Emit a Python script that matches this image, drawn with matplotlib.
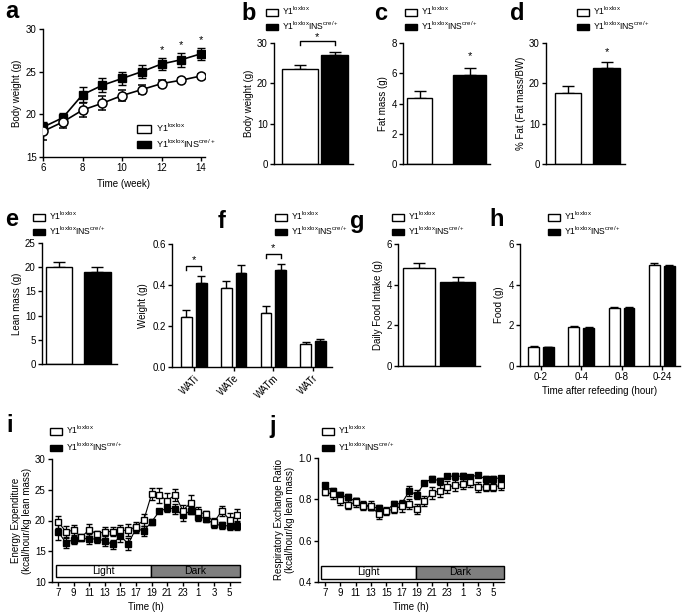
"""Multi-panel phenotype figure: body composition, fat pads, food intake and calorimetry."""

import matplotlib
matplotlib.use("Agg")
import matplotlib.pyplot as plt
from matplotlib.patches import Patch, Rectangle
import numpy as np

plt.rcParams["font.family"] = ["Liberation Sans", "DejaVu Sans"]
plt.rcParams["mathtext.fontset"] = "custom"
plt.rcParams["mathtext.rm"] = "Liberation Sans"
plt.rcParams["mathtext.it"] = "Liberation Sans"

LABEL_CTRL = r"Y1$^{\mathrm{loxlox}}$"
LABEL_KO = r"Y1$^{\mathrm{loxlox}}$INS$^{\mathrm{cre/+}}$"

# a: body weight over time
weeks = [6, 7, 8, 9, 10, 11, 12, 13, 14]
bw_ctrl = [18.0, 19.1, 20.5, 21.3, 22.2, 22.9, 23.6, 24.0, 24.5]
bw_ctrl_sem = [1.0, 0.7, 0.8, 0.8, 0.6, 0.5, 0.4, 0.2, 0.2]
bw_ko = [18.5, 19.6, 22.3, 23.4, 24.2, 25.0, 25.9, 26.4, 27.1]
bw_ko_sem = [0.6, 0.5, 0.9, 0.8, 0.8, 0.8, 0.7, 0.8, 0.7]
bw_sig_weeks = [12, 13, 14]

# b-e, g: two-group bar panels
body_weight = [23.6, 27.1]
body_weight_sem = [1.0, 0.6]
fat_mass = [4.35, 5.9]
fat_mass_sem = [0.45, 0.45]
pct_fat = [17.7, 23.8]
pct_fat_sem = [1.6, 1.5]
lean_mass = [20.0, 19.0]
lean_mass_sem = [1.1, 1.0]
food_intake = [4.8, 4.13]
food_intake_sem = [0.28, 0.25]

# f: fat pad weights
wat_labels = ["WATi", "WATe", "WATm", "WATr"]
wat_ctrl = [0.244, 0.385, 0.263, 0.112]
wat_ctrl_sem = [0.035, 0.035, 0.037, 0.008]
wat_ko = [0.41, 0.46, 0.473, 0.127]
wat_ko_sem = [0.033, 0.04, 0.028, 0.008]
wat_sig = ["WATi", "WATm"]

# h: refeeding
refeed_labels = ["0-2", "0-4", "0-8", "0-24"]
refeed_ctrl = [0.95, 1.93, 2.86, 4.97]
refeed_ctrl_sem = [0.03, 0.03, 0.05, 0.08]
refeed_ko = [0.92, 1.86, 2.83, 4.93]
refeed_ko_sem = [0.03, 0.04, 0.06, 0.04]

# i, j: calorimetry, hourly from 7h
hours = [7, 8, 9, 10, 11, 12, 13, 14, 15, 16, 17, 18, 19, 20, 21, 22, 23, 0, 1, 2, 3, 4, 5, 6]
ee_ctrl = [19.8, 18.2, 18.4, 17.3, 18.5, 17.8, 18.2, 18.2, 18.4, 18.4, 19.0, 20.1,
           24.3, 24.1, 23.2, 24.2, 21.6, 22.9, 21.4, 21.0, 19.7, 21.6, 20.1, 20.9]
ee_ctrl_sem = [1.0, 0.9, 0.9, 0.5, 1.0, 0.5, 0.7, 0.8, 0.9, 1.0, 0.8, 1.0,
               1.0, 1.2, 1.2, 1.0, 1.0, 1.2, 0.8, 0.5, 0.7, 0.8, 1.2, 1.0]
ee_ko = [18.2, 16.4, 16.9, 17.1, 17.0, 17.0, 16.7, 16.1, 17.5, 16.2, 18.7, 18.3,
         19.8, 21.5, 22.0, 21.9, 20.9, 21.6, 20.6, 20.3, 19.4, 19.2, 19.1, 19.1]
ee_ko_sem = [1.3, 0.8, 0.8, 0.5, 0.8, 0.6, 0.8, 0.8, 1.0, 1.0, 0.8, 0.8,
             0.5, 0.3, 0.6, 0.8, 0.9, 0.6, 0.6, 0.6, 0.6, 0.6, 0.6, 0.6]
rer_ctrl = [0.836, 0.824, 0.795, 0.775, 0.785, 0.770, 0.770, 0.728, 0.742, 0.754, 0.766, 0.776,
            0.754, 0.792, 0.831, 0.841, 0.860, 0.867, 0.873, 0.883, 0.860, 0.860, 0.860, 0.867]
rer_ctrl_sem = [0.015, 0.02, 0.02, 0.02, 0.02, 0.02, 0.02, 0.025, 0.02, 0.02, 0.025, 0.025,
                0.025, 0.025, 0.03, 0.03, 0.03, 0.025, 0.025, 0.025, 0.025, 0.02, 0.02, 0.02]
rer_ko = [0.868, 0.839, 0.820, 0.811, 0.790, 0.771, 0.763, 0.758, 0.743, 0.779, 0.779, 0.839,
          0.823, 0.880, 0.900, 0.889, 0.912, 0.912, 0.912, 0.909, 0.917, 0.898, 0.900, 0.904]
rer_ko_sem = [0.01, 0.015, 0.015, 0.015, 0.015, 0.01, 0.015, 0.015, 0.01, 0.015, 0.02, 0.025,
              0.02, 0.01, 0.015, 0.015, 0.01, 0.015, 0.015, 0.01, 0.01, 0.015, 0.015, 0.01]

W, H = 685, 614
TICK_SIZE = 7
LABEL_SIZE = 7
LEGEND_SIZE = 6.2


def add_axes_px(fig, left, top, right, bottom):
    """Add axes using pixel coordinates measured from the top-left corner."""
    return fig.add_axes([left / W, 1 - bottom / H, (right - left) / W, (bottom - top) / H])


def style_axes(ax):
    for side in ("top", "right"):
        ax.spines[side].set_visible(False)
    for side in ("left", "bottom"):
        ax.spines[side].set_linewidth(1.0)
    ax.tick_params(direction="out", length=3, width=1, labelsize=TICK_SIZE, pad=1.5)


def add_legend(fig, left, top, handle_len=1.4, handle_h=0.75, size=LEGEND_SIZE, spacing=0.22):
    handles = [Patch(facecolor="white", edgecolor="black", linewidth=1.0),
               Patch(facecolor="black", edgecolor="black", linewidth=1.0)]
    fig.legend(handles, [LABEL_CTRL, LABEL_KO], loc="upper left",
               bbox_to_anchor=(left / W, 1 - top / H), frameon=False, fontsize=size,
               handlelength=handle_len, handleheight=handle_h, handletextpad=0.5,
               labelspacing=spacing, borderpad=0, borderaxespad=0)


def panel_letter(fig, x, y, letter):
    fig.text(x / W, 1 - y / H, letter, fontsize=17, fontweight="bold", ha="center", va="center")


def star(ax, x, y):
    ax.text(x, y, "*", ha="center", va="center", fontsize=8, clip_on=False)


def two_bar_panel(fig, box, xlim, widths, values, sems, ylim, yticks, ylabel):
    ax = add_axes_px(fig, *box)
    style_axes(ax)
    colors = ["white", "black"]
    ax.errorbar([0, 1], values, yerr=[np.zeros(2), sems], fmt="none", ecolor="black",
                elinewidth=1, capsize=4, capthick=1, zorder=1)
    ax.bar([0, 1], values, width=widths, color=colors, edgecolor="black", linewidth=1, zorder=2)
    ax.set_xlim(*xlim)
    ax.set_ylim(*ylim)
    ax.set_yticks(yticks)
    ax.set_xticks([])
    ax.set_ylabel(ylabel, fontsize=LABEL_SIZE, labelpad=2)
    return ax


def grouped_bar_panel(fig, box, xlim, labels, ctrl, ctrl_sem, ko, ko_sem, ylim, yticks):
    ax = add_axes_px(fig, *box)
    style_axes(ax)
    x = np.arange(len(labels))
    off, w = 0.185, 0.27
    ax.errorbar(x - off, ctrl, yerr=[np.zeros(len(x)), ctrl_sem], fmt="none", ecolor="black",
                elinewidth=1, capsize=3, capthick=1, zorder=1)
    ax.errorbar(x + off, ko, yerr=[np.zeros(len(x)), ko_sem], fmt="none", ecolor="black",
                elinewidth=1, capsize=3, capthick=1, zorder=1)
    ax.bar(x - off, ctrl, width=w, color="white", edgecolor="black", linewidth=1, zorder=2)
    ax.bar(x + off, ko, width=w, color="black", edgecolor="black", linewidth=1, zorder=2)
    ax.set_xticks(x)
    ax.set_xlim(*xlim)
    ax.set_ylim(*ylim)
    ax.set_yticks(yticks)
    return ax, x, off


def bracket(ax, x0, x1, y, drop, star_gap):
    ax.plot([x0, x0, x1, x1], [y - drop, y, y, y - drop], color="black", lw=1, clip_on=False)
    star(ax, (x0 + x1) / 2, y + star_gap)


def light_dark_bar(ax, x0, x_mid, x1, y0, y1, text_y):
    ax.add_patch(Rectangle((x0, y0), x_mid - x0, y1 - y0, facecolor="white",
                           edgecolor="black", linewidth=1))
    ax.add_patch(Rectangle((x_mid, y0), x1 - x_mid, y1 - y0, facecolor="#7f7f7f",
                           edgecolor="black", linewidth=1, clip_on=False))
    ax.text((x0 + x_mid) / 2, text_y, "Light", ha="center", va="center", fontsize=7.5)
    ax.text((x_mid + x1) / 2, text_y, "Dark", ha="center", va="center", fontsize=7.5)


def time_course_panel(fig, box, xlim, ctrl, ctrl_sem, ko, ko_sem, ylim, yticks, ylabel):
    ax = add_axes_px(fig, *box)
    style_axes(ax)
    x = np.arange(len(hours))
    ax.errorbar(x, ko, yerr=ko_sem, color="black", lw=0.8, marker="s", ms=4.2,
                mfc="black", mec="black", ecolor="black", elinewidth=0.9, capsize=2.2, zorder=2)
    ax.errorbar(x, ctrl, yerr=ctrl_sem, color="black", lw=0.8, marker="s", ms=4.8,
                mfc="white", mec="black", mew=1, ecolor="black", elinewidth=0.9,
                capsize=2.2, zorder=3)
    ax.set_xlim(*xlim)
    ax.set_ylim(*ylim)
    ax.set_yticks(yticks)
    ax.set_xticks(x[::2])
    ax.set_xticklabels([str(h) for h in hours[::2]])
    ax.set_xlabel("Time (h)", fontsize=LABEL_SIZE, labelpad=3)
    ax.set_ylabel(ylabel, fontsize=LABEL_SIZE, labelpad=2)
    return ax


def main():
    fig = plt.figure(figsize=(W / 100, H / 100), dpi=100)

    # a
    ax = add_axes_px(fig, 43, 29, 205, 157)
    style_axes(ax)
    ax.errorbar(weeks, bw_ko, yerr=bw_ko_sem, color="black", lw=1.2, marker="s", ms=6,
                mfc="black", mec="black", ecolor="black", elinewidth=1, capsize=3, zorder=2)
    ax.errorbar(weeks, bw_ctrl, yerr=bw_ctrl_sem, color="black", lw=1.2, marker="o", ms=6.5,
                mfc="white", mec="black", mew=1.1, ecolor="black", elinewidth=1, capsize=3, zorder=3)
    for wk in bw_sig_weeks:
        i = weeks.index(wk)
        star(ax, wk, bw_ko[i] + bw_ko_sem[i] + 0.9)
    ax.set_xlim(6, 14.2)
    ax.set_ylim(15, 30)
    ax.set_xticks([6, 8, 10, 12, 14])
    ax.set_yticks([15, 20, 25, 30])
    ax.set_xlabel("Time (week)", fontsize=LABEL_SIZE, labelpad=4)
    ax.set_ylabel("Body weight (g)", fontsize=LABEL_SIZE, labelpad=3)
    add_legend(fig, 137, 122, handle_len=1.6, handle_h=0.95, size=6.5, spacing=0.3)
    panel_letter(fig, 12, 11, "a")

    # b
    ax = two_bar_panel(fig, (274, 43, 353, 164), (-0.754, 1.536), [1.04, 0.78],
                       body_weight, body_weight_sem, (0, 30), [0, 10, 20, 30], "Body weight (g)")
    bracket(ax, 0, 1, 30.4, 1.0, 1.1)
    add_legend(fig, 266, 5)
    panel_letter(fig, 249, 14, "b")

    # c
    ax = two_bar_panel(fig, (403, 43, 490, 164), (-0.33, 1.41), [0.5, 0.66],
                       fat_mass, fat_mass_sem, (0, 8), [0, 2, 4, 6, 8], "Fat mass (g)")
    star(ax, 1, fat_mass[1] + fat_mass_sem[1] + 0.8)
    add_legend(fig, 405, 5)
    panel_letter(fig, 381, 14, "c")

    # d
    ax = two_bar_panel(fig, (546, 43, 625, 164), (-0.57, 1.48), [0.675, 0.70],
                       pct_fat, pct_fat_sem, (0, 30), [0, 10, 20, 30], "% Fat (Fat mass/BW)")
    star(ax, 1, pct_fat[1] + pct_fat_sem[1] + 2.5)
    add_legend(fig, 577, 5)
    panel_letter(fig, 517, 14, "d")

    # e
    two_bar_panel(fig, (42, 243, 117, 364), (-0.45, 1.51), [0.675, 0.70],
                  lean_mass, lean_mass_sem, (0, 25), [0, 5, 10, 15, 20, 25], "Lean mass (g)")
    add_legend(fig, 33, 210)
    panel_letter(fig, 12, 220, "e")

    # f
    ax, x, off = grouped_bar_panel(fig, (172, 244, 332, 367), (-0.55, 3.48), wat_labels,
                                   wat_ctrl, wat_ctrl_sem, wat_ko, wat_ko_sem,
                                   (0, 0.6), [0.0, 0.2, 0.4, 0.6])
    ax.set_yticklabels(["0.0", "0.2", "0.4", "0.6"])
    ax.set_xticklabels(wat_labels, rotation=45, ha="right", rotation_mode="anchor")
    ax.set_ylabel("Weight (g)", fontsize=LABEL_SIZE, labelpad=3)
    for name in wat_sig:
        k = wat_labels.index(name)
        top = wat_ko[k] + wat_ko_sem[k] + 0.05
        bracket(ax, k - off, k + off, top, 0.02, 0.03)
    add_legend(fig, 275, 210)
    panel_letter(fig, 222, 222, "f")

    # g
    two_bar_panel(fig, (398, 244, 480, 366), (-0.55, 1.58), [0.83, 0.91],
                  food_intake, food_intake_sem, (0, 6), [0, 2, 4, 6], "Daily Food Intake (g)")
    add_legend(fig, 392, 210)
    panel_letter(fig, 357, 222, "g")

    # h
    ax, x, off = grouped_bar_panel(fig, (520, 244, 680, 366), (-0.52, 3.45), refeed_labels,
                                   refeed_ctrl, refeed_ctrl_sem, refeed_ko, refeed_ko_sem,
                                   (0, 6), [0, 2, 4, 6])
    ax.set_xticklabels(refeed_labels)
    ax.set_xlabel("Time after refeeding (hour)", fontsize=LABEL_SIZE, labelpad=3)
    ax.set_ylabel("Food (g)", fontsize=LABEL_SIZE, labelpad=3)
    add_legend(fig, 548, 210)
    panel_letter(fig, 497, 220, "h")

    # i
    ax = time_course_panel(fig, (52, 459, 240, 582), (-0.77, 23.33), ee_ctrl, ee_ctrl_sem,
                           ee_ko, ee_ko_sem, (10, 30), [10, 15, 20, 25, 30],
                           "Energy Expenditure\n(kcal/hour/kg lean mass)")
    light_dark_bar(ax, -0.3, 11.9, 23.3, 10.8, 12.8, 11.8)
    add_legend(fig, 50, 424, spacing=0.45)
    panel_letter(fig, 10, 426, "i")

    # j
    ax = time_course_panel(fig, (318, 458, 504, 582), (-0.92, 23.4), rer_ctrl, rer_ctrl_sem,
                           rer_ko, rer_ko_sem, (0.4, 1.0), [0.4, 0.6, 0.8, 1.0],
                           "Respiratory Exchange Ratio\n(kcal/hour/kg lean mass)")
    light_dark_bar(ax, -0.55, 11.9, 23.4, 0.415, 0.478, 0.4465)
    add_legend(fig, 322, 424, spacing=0.45)
    panel_letter(fig, 273, 427, "j")

    fig.savefig("out.png", dpi=100)


if __name__ == "__main__":
    main()
